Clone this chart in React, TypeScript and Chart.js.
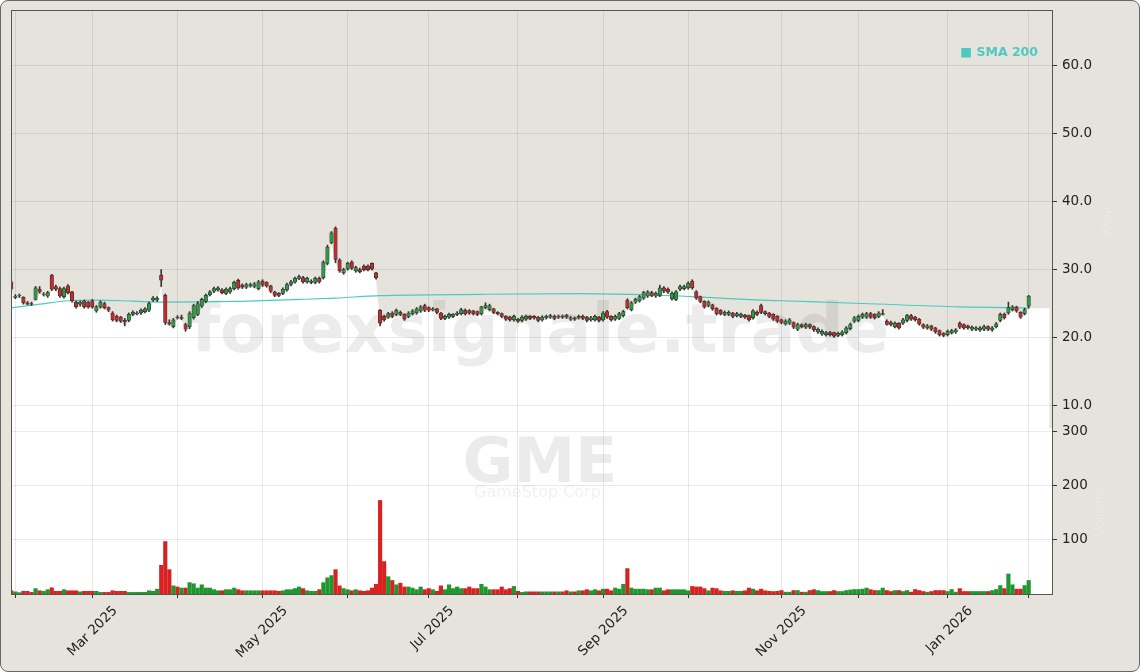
import React, { useEffect, useRef } from 'react';
import { Chart, registerables } from 'chart.js';

Chart.register(...registerables);

// GME daily candles, trading-day index 0 = 2025-01-31 ... 251 = 2026-02-02
const openP = [
  28.2,25.9,26.1,25.9,25.1,25.0,25.6,27.1,26.3,26.1,
  29.2,27.5,27.2,26.0,27.6,26.7,25.2,24.9,25.4,25.2,
  25.4,23.9,24.5,25.0,24.4,23.6,23.1,23.0,22.5,22.5,
  23.4,23.5,23.6,23.8,24.0,25.5,25.5,29.15,26.2,22.2,
  21.6,23.0,22.8,21.9,21.6,22.9,23.4,24.6,25.3,26.3,
  26.8,27.0,27.0,26.5,26.7,27.2,28.4,27.7,27.4,27.6,
  27.5,27.2,28.3,28.1,27.6,26.7,26.5,26.5,27.0,27.8,
  28.15,28.7,28.8,28.2,28.1,28.1,28.7,28.8,30.9,34.0,
  36.1,31.4,29.5,30.1,31.1,29.8,30.0,30.5,30.5,30.9,
  29.5,24.0,23.1,23.0,23.6,23.4,23.7,23.4,23.1,23.5,
  23.6,23.9,24.7,24.4,24.0,24.2,23.6,22.8,23.0,23.1,
  23.4,23.5,24.0,23.95,23.9,23.8,23.5,24.4,24.1,24.2,
  23.7,23.5,23.1,23.0,22.6,22.7,22.5,22.7,23.1,23.1,
  23.0,22.6,22.9,23.0,23.1,23.0,23.1,23.3,22.7,22.9,
  22.9,23.1,23.0,22.6,22.6,23.0,22.6,23.8,23.1,22.7,
  22.8,23.2,25.5,24.1,25.2,25.4,25.8,26.1,26.6,26.1,
  26.2,27.3,27.1,25.7,25.6,27.1,27.2,27.3,28.3,26.7,
  26.0,25.3,24.7,24.8,24.3,24.0,23.4,23.4,23.6,23.2,
  23.1,23.3,23.2,22.9,23.7,24.7,23.8,23.6,23.4,23.1,
  22.6,22.0,22.1,22.2,21.2,21.9,21.5,21.9,21.6,20.8,
  20.5,20.4,20.7,20.7,20.3,20.4,20.7,21.3,22.4,22.5,
  23.0,23.0,23.5,23.4,23.1,23.4,22.4,22.2,21.6,22.1,
  22.1,22.5,23.2,23.0,22.7,21.9,21.4,21.7,21.4,21.0,
  20.6,20.4,20.7,20.8,22.1,21.9,21.7,21.2,21.2,21.1,
  21.2,21.6,21.1,21.6,22.5,23.4,23.6,24.1,24.5,23.7,
  23.5,24.6,
];

const highP = [
  28.5,26.3,26.4,26.0,25.3,25.2,27.5,27.5,26.6,26.8,
  29.3,27.7,27.4,27.4,27.8,26.8,25.4,25.4,25.5,25.3,
  25.6,24.7,25.4,25.2,24.5,23.8,23.3,23.1,22.8,23.6,
  23.9,23.8,24.2,24.4,25.2,26.0,26.0,30.0,26.4,22.6,
  22.8,23.2,23.3,22.1,23.8,24.9,25.3,25.8,26.4,26.9,
  27.4,27.5,27.2,27.3,27.4,28.3,28.6,27.9,28.0,28.0,
  28.1,28.4,28.5,28.2,27.7,26.8,26.6,27.3,28.0,28.4,
  28.9,29.2,29.0,28.9,28.5,28.9,28.9,31.3,33.6,35.6,
  36.3,31.6,30.2,31.1,31.3,30.5,30.2,30.7,30.7,31.0,
  29.6,24.1,23.3,23.7,23.8,24.2,23.9,23.5,23.8,24.1,
  24.4,24.7,24.9,24.5,24.4,24.3,23.7,23.3,23.6,23.5,
  23.8,24.3,24.2,24.1,24.0,23.9,24.6,25.1,24.9,24.3,
  23.8,23.6,23.2,23.1,23.3,22.8,23.2,23.3,23.2,23.2,
  23.1,23.2,23.3,23.4,23.3,23.3,23.3,23.4,23.1,23.0,
  23.3,23.3,23.1,23.1,23.3,23.1,23.8,24.0,23.2,23.3,
  23.7,24.0,25.7,25.3,25.8,26.2,26.8,26.9,26.8,26.7,
  27.7,27.5,27.3,26.7,26.9,27.7,27.7,28.2,28.5,26.9,
  26.1,25.4,25.4,24.9,24.4,24.1,23.9,23.9,23.7,23.7,
  23.6,23.4,23.3,24.1,23.9,24.9,23.9,23.7,23.5,23.2,
  22.7,22.6,22.8,22.3,22.1,22.0,22.1,22.0,21.7,21.4,
  21.1,20.9,20.9,20.8,20.8,21.0,21.6,22.1,23.1,23.3,
  23.6,23.7,23.7,23.5,23.8,24.1,22.6,22.4,22.3,22.2,
  22.8,23.4,23.4,23.1,22.8,22.0,21.9,21.8,21.5,21.1,
  20.7,21.1,21.2,21.3,22.3,22.0,21.8,21.7,21.6,21.6,
  21.8,21.7,21.6,22.2,23.6,23.6,25.2,24.7,24.6,23.8,
  24.3,26.2,
];

const lowP = [
  26.9,25.7,25.9,24.9,24.8,24.7,25.5,26.5,26.1,25.9,
  26.9,26.9,25.9,25.8,26.4,25.2,24.3,24.6,24.3,24.3,
  24.3,23.7,24.3,24.2,23.8,22.4,22.3,22.2,21.7,22.3,
  23.2,23.3,23.4,23.6,23.8,25.3,25.3,27.5,21.9,21.8,
  21.4,22.7,22.6,20.9,21.3,22.7,23.2,24.4,25.1,26.1,
  26.6,26.8,26.4,26.3,26.5,27.0,27.1,27.2,27.2,27.4,
  27.3,27.0,27.5,27.4,26.6,26.0,26.0,26.3,26.8,27.6,
  28.0,28.5,28.0,28.0,27.9,27.9,28.0,28.6,30.7,33.8,
  31.0,29.6,29.3,29.9,30.0,29.6,29.5,29.8,29.8,29.9,
  28.6,21.7,22.4,22.8,22.9,23.2,23.2,22.5,22.9,23.3,
  23.4,23.7,23.8,23.8,23.9,23.5,22.6,22.6,22.8,22.9,
  23.2,23.3,23.3,23.4,23.3,23.2,23.3,24.2,23.9,23.5,
  23.3,22.9,22.5,22.4,22.4,22.2,22.3,22.5,22.6,22.7,
  22.3,22.4,22.7,22.8,22.6,22.8,22.8,22.8,22.5,22.5,
  22.7,22.6,22.3,22.4,22.4,22.3,22.4,22.8,22.4,22.5,
  22.6,23.0,24.2,23.9,25.0,25.2,25.6,25.9,26.0,25.9,
  26.0,26.6,26.5,25.5,25.4,26.9,27.0,27.1,27.1,25.6,
  25.1,24.3,24.5,24.0,23.3,23.3,23.2,23.2,22.9,23.0,
  22.9,22.8,22.4,22.7,23.2,23.5,23.3,22.9,22.5,22.2,
  22.0,21.8,21.9,21.3,21.0,21.4,21.3,21.3,20.9,20.6,
  20.3,20.2,20.2,20.0,20.1,20.2,20.5,21.1,22.2,22.3,
  22.8,22.8,22.8,22.7,22.9,23.3,21.8,21.7,21.4,21.2,
  21.9,22.3,22.5,22.4,21.8,21.3,21.2,21.0,20.6,20.2,
  20.1,20.2,20.5,20.6,21.3,21.2,21.2,21.0,21.0,20.9,
  21.0,21.0,20.9,21.4,22.3,22.7,23.4,23.9,23.7,22.8,
  23.3,24.3,
];

const closeP = [
  27.1,26.1,26.2,25.1,24.9,24.9,27.3,26.7,26.4,26.6,
  27.1,27.1,26.1,27.2,26.6,25.4,24.5,25.2,24.5,24.5,
  24.5,24.5,25.2,24.4,24.0,22.6,22.5,22.4,22.3,23.4,
  23.7,23.6,24.0,24.2,25.0,25.8,25.8,28.45,22.2,22.0,
  22.6,22.9,23.0,21.2,23.6,24.7,25.0,25.6,26.2,26.7,
  27.2,27.3,26.6,27.1,27.2,28.1,27.3,27.4,27.8,27.8,
  27.9,28.2,27.7,27.6,26.8,26.2,26.2,27.1,27.8,28.2,
  28.7,28.95,28.2,28.7,28.3,28.7,28.2,31.1,33.3,35.4,
  31.5,29.8,30.0,30.9,30.2,30.3,29.7,30.0,30.0,30.1,
  28.8,22.1,22.6,23.5,23.1,24.0,23.4,22.7,23.6,23.9,
  24.2,24.5,24.0,24.0,24.2,23.7,22.8,23.1,23.4,23.4,
  23.6,24.1,23.5,23.6,23.5,23.4,24.5,24.7,24.7,23.7,
  23.5,23.1,22.7,22.6,23.1,22.4,23.0,23.1,22.8,22.9,
  22.5,23.0,23.1,23.2,22.8,23.1,23.0,23.0,22.9,22.7,
  23.1,22.8,22.5,22.9,23.1,22.5,23.6,23.0,22.6,23.1,
  23.5,23.8,24.4,25.1,25.6,26.0,26.6,26.7,26.2,26.5,
  27.3,26.8,26.7,26.5,26.7,27.5,27.5,28.0,27.3,25.8,
  25.3,24.5,25.2,24.2,23.5,23.5,23.7,23.7,23.1,23.5,
  23.4,23.0,22.6,23.9,23.4,23.7,23.5,23.1,22.7,22.4,
  22.2,22.4,22.6,21.5,21.9,21.6,21.9,21.5,21.1,21.2,
  20.9,20.7,20.4,20.2,20.6,20.8,21.4,21.9,22.9,23.1,
  23.4,23.5,23.0,22.9,23.6,23.5,21.9,21.9,22.1,21.4,
  22.6,23.2,22.7,22.6,22.0,21.5,21.7,21.2,20.8,20.4,
  20.3,20.9,21.0,21.1,21.5,21.4,21.4,21.5,21.4,21.4,
  21.6,21.2,21.4,22.0,23.4,22.9,24.4,24.5,23.9,23.0,
  24.1,26.1,
];

// volume in millions of shares
const volumeM = [
  6,4,2.5,5,5,3,10,6,5,8,
  11.5,5,5,8,6,6,6,4,5,5,
  5,5,3,3,3,6,5,5,5,3,
  3,3,3,3,6,5,9,53,97,45,
  15,13,11,11,21,19,11,17,11,11,
  8,6,6,8,8,11,8,6,6,6,
  6,6,6,6,6,6,5,6,8,8,
  10,13,10,6,5,5,8,21,30,34,
  45,15,10,8,6,8,6,5,6,11,
  18,173,60,32,25,17,20,13,13,11,
  8,13,8,10,8,5,15,8,17,10,
  13,10,10,13,10,10,18,13,8,8,
  8,13,8,10,14,5,3,4,4,4,
  4,4,4,4,4,4,4,6,4,4,
  6,6,8,6,8,6,9,9,6,11,
  9,18,47,11,9,9,9,8,8,11,
  11,6,8,8,8,8,8,6,14,13,
  13,10,6,11,10,6,5,5,6,5,
  5,6,11,9,6,9,6,5,4.5,5,
  6.4,3.4,3.4,6.4,6.4,3.4,3.4,6.4,8,6.4,
  4.6,4.6,4.6,6.4,4.6,4.6,6.4,7.5,8.3,8.3,
  9,11,8,6.4,6.4,11,6.4,4.6,6.4,6.4,
  4.6,6.4,3.4,8.3,6.4,4.6,3.4,4.6,6.4,6.4,
  6.4,4.6,8.3,3.4,10,4.6,4.6,4.6,4.6,4.6,
  4.6,4.6,6.4,8.3,15.6,10,37,17,9,9,
  15.6,25,
];

// SMA 200 read at sample bars
const smaIdx = [0, 7, 14, 20, 30, 38, 55, 71, 80, 91, 116, 140, 155, 165, 173, 185, 190, 210, 234, 251];
const smaVal = [24.35, 24.9, 25.4, 25.5, 25.35, 25.2, 25.3, 25.6, 25.8, 26.15, 26.35, 26.45, 26.3, 26.1, 25.85, 25.5, 25.4, 25.0, 24.5, 24.35];

// first trading day of each month (bar index) and labels
const monthTickIdx = [1, 20, 41, 62, 83, 103, 125, 146, 167, 190, 209, 231, 251];
const monthTickLabels = ['', 'Mar 2025', '', 'May 2025', '', 'Jul 2025', '', 'Sep 2025', '', 'Nov 2025', '', 'Jan 2026', ''];

const priceTicks = [10, 20, 30, 40, 50, 60];
const volumeTicks = [100, 200, 300];

const X_MIN = -0.06;
const X_MAX = 257.0;
const PRICE_MIN = 6.65;
const PRICE_MAX = 68.25;
const VOL_MIN = 0;
const VOL_MAX = 307;
const FILL_TAIL_BARS = 5.2;

const BG = '#e6e3dd';
const GRID = 'rgba(0,0,0,0.085)';
const TEXT = '#222222';
const UP_BODY = '#2f9a46';
const DOWN_BODY = '#c42b2b';
const UP_VOL = '#1f972f';
const DOWN_VOL = '#d82222';
const EDGE = '#333333';
const SMA_COLOR = '#4cc9c0';
const FONT = '"DejaVu Sans", sans-serif';

export default function App() {
  const ref = useRef<HTMLCanvasElement | null>(null);

  useEffect(() => {
    const canvas = ref.current;
    if (!canvas) return;
    Chart.defaults.font.family = FONT;

    const n = closeP.length;
    const up = closeP.map((c, i) => c >= openP[i]);
    const idx = closeP.map((_, i) => i);

    const fillData = idx.map((i) => ({ x: i, y: lowP[i] }));
    fillData.push({ x: n - 1 + FILL_TAIL_BARS, y: lowP[n - 1] });

    const panelPlugin = {
      id: 'panelPlugin',
      beforeDraw(chart: any) {
        const { ctx, chartArea } = chart;
        const yv = chart.scales.yv;
        ctx.save();
        ctx.fillStyle = '#ffffff';
        ctx.fillRect(chartArea.left, yv.top, chartArea.right - chartArea.left, yv.bottom - yv.top);
        ctx.restore();
      },
      beforeDatasetsDraw(chart: any) {
        const { ctx } = chart;
        ctx.save();
        ctx.textAlign = 'center';
        ctx.textBaseline = 'alphabetic';
        ctx.fillStyle = 'rgba(0,0,0,0.075)';
        ctx.font = `bold 67px ${FONT}`;
        ctx.fillText('forexsignale.trade', 540, 352);
        ctx.fillStyle = 'rgba(0,0,0,0.08)';
        ctx.font = `bold 62px ${FONT}`;
        ctx.fillText('GME', 540, 482);
        ctx.fillStyle = 'rgba(0,0,0,0.06)';
        ctx.font = `16px ${FONT}`;
        ctx.fillText('GameStop Corp.', 540, 497);
        ctx.restore();
      },
      afterDraw(chart: any) {
        const { ctx, chartArea } = chart;
        ctx.save();
        ctx.strokeStyle = '#555555';
        ctx.lineWidth = 1;
        ctx.strokeRect(
          Math.round(chartArea.left) + 0.5,
          Math.round(chartArea.top) + 0.5,
          Math.round(chartArea.right - chartArea.left) - 1,
          Math.round(chartArea.bottom - chartArea.top)
        );
        // legend
        ctx.font = `bold 12.5px ${FONT}`;
        ctx.fillStyle = SMA_COLOR;
        ctx.textAlign = 'right';
        ctx.textBaseline = 'middle';
        ctx.fillText('\u25A0 SMA 200', chartArea.right - 15, chartArea.top + 43);
        // faint axis titles
        ctx.fillStyle = 'rgba(255,255,255,0.22)';
        ctx.font = `13px ${FONT}`;
        ctx.textAlign = 'center';
        ctx.translate(1105, 222);
        ctx.rotate(Math.PI / 2);
        ctx.fillText('Price', 0, 0);
        ctx.rotate(-Math.PI / 2);
        ctx.translate(-1105, -222);
        ctx.translate(1100, 512);
        ctx.rotate(-Math.PI / 2);
        ctx.fillText('Volume', 0, 0);
        ctx.restore();
      },
    };

    const zeroPad = (s: any) => {
      s.paddingTop = 0;
      s.paddingBottom = 0;
      s.paddingLeft = 0;
      s.paddingRight = 0;
    };

    const chart = new Chart(canvas, {
      type: 'bar',
      data: {
        datasets: [
          {
            type: 'line',
            label: 'area',
            data: fillData,
            yAxisID: 'y',
            xAxisID: 'x',
            fill: 'start',
            backgroundColor: '#ffffff',
            borderColor: 'rgba(0,0,0,0)',
            borderWidth: 0,
            pointRadius: 0,
            order: 10,
          } as any,
          {
            type: 'bar',
            label: 'Volume',
            data: idx.map((i) => ({ x: i, y: volumeM[i] })),
            yAxisID: 'yv',
            xAxisID: 'x',
            backgroundColor: up.map((u) => (u ? UP_VOL : DOWN_VOL)),
            barThickness: 3.5,
            grouped: false,
            order: 8,
          } as any,
          {
            type: 'line',
            label: 'SMA 200',
            data: smaIdx.map((x, k) => ({ x, y: smaVal[k] })),
            yAxisID: 'y',
            xAxisID: 'x',
            borderColor: SMA_COLOR,
            borderWidth: 1.2,
            pointRadius: 0,
            fill: false,
            cubicInterpolationMode: 'monotone',
            order: 6,
          } as any,
          {
            type: 'bar',
            label: 'wick',
            data: idx.map((i) => ({ x: i, y: [lowP[i], highP[i]] })),
            yAxisID: 'y',
            xAxisID: 'x',
            backgroundColor: EDGE,
            barThickness: 1,
            grouped: false,
            order: 4,
          } as any,
          {
            type: 'bar',
            label: 'body',
            data: idx.map((i) => ({ x: i, y: [openP[i], closeP[i]] })),
            yAxisID: 'y',
            xAxisID: 'x',
            backgroundColor: up.map((u) => (u ? UP_BODY : DOWN_BODY)),
            borderColor: EDGE,
            borderWidth: 0.7,
            borderSkipped: false,
            barThickness: 3.5,
            grouped: false,
            order: 2,
          } as any,
        ],
      },
      options: {
        responsive: false,
        animation: false,
        events: [],
        layout: { padding: { left: 11, top: 10, right: 0, bottom: 0 } },
        plugins: {
          legend: { display: false },
          tooltip: { enabled: false },
          filler: { propagate: false, drawTime: 'beforeDraw' },
        } as any,
        scales: {
          x: {
            type: 'linear',
            position: 'bottom',
            min: X_MIN,
            max: X_MAX,
            offset: false,
            afterBuildTicks: (s: any) => {
              s.ticks = monthTickIdx.map((v) => ({ value: v }));
            },
            afterFit: (s: any) => {
              s.height = 78;
              zeroPad(s);
            },
            ticks: {
              autoSkip: false,
              minRotation: 45,
              maxRotation: 45,
              color: TEXT,
              font: { size: 13.5, family: FONT },
              labelOffset: 23,
              padding: 5,
              callback: (_v: any, i: number) => monthTickLabels[i],
            },
            grid: { color: GRID, tickColor: '#333333', tickLength: 4, offset: false },
            border: { display: false },
          },
          y: {
            type: 'linear',
            position: 'right',
            stack: 'panels',
            stackWeight: 418,
            min: PRICE_MIN,
            max: PRICE_MAX,
            beginAtZero: false,
            afterBuildTicks: (s: any) => {
              s.ticks = priceTicks.map((v) => ({ value: v }));
            },
            afterFit: (s: any) => {
              s.width = 87;
              zeroPad(s);
            },
            ticks: {
              color: TEXT,
              font: { size: 13.5, family: FONT },
              padding: 5,
              callback: (v: any) => Number(v).toFixed(1),
            },
            grid: { color: GRID, tickColor: '#333333', tickLength: 4 },
            border: { display: false },
          },
          yv: {
            type: 'linear',
            position: 'right',
            stack: 'panels',
            stackWeight: 166,
            min: VOL_MIN,
            max: VOL_MAX,
            beginAtZero: false,
            afterBuildTicks: (s: any) => {
              s.ticks = volumeTicks.map((v) => ({ value: v }));
            },
            afterFit: (s: any) => {
              s.width = 87;
              zeroPad(s);
            },
            ticks: {
              color: TEXT,
              font: { size: 13.5, family: FONT },
              padding: 5,
              callback: (v: any) => String(v),
            },
            grid: { color: GRID, tickColor: '#333333', tickLength: 4 },
            border: { display: false },
          },
        } as any,
      },
      plugins: [panelPlugin],
    } as any);

    return () => {
      chart.destroy();
    };
  }, []);

  return (
    <div
      style={{
        position: 'fixed',
        left: 0,
        top: 0,
        width: 1140,
        height: 672,
        background: BG,
        border: '1px solid #666666',
        borderRadius: 8,
        boxSizing: 'border-box',
        overflow: 'hidden',
      }}
    >
      <canvas
        ref={ref}
        width={1140}
        height={672}
        style={{ position: 'absolute', left: -1, top: -1, width: 1140, height: 672 }}
      />
    </div>
  );
}
